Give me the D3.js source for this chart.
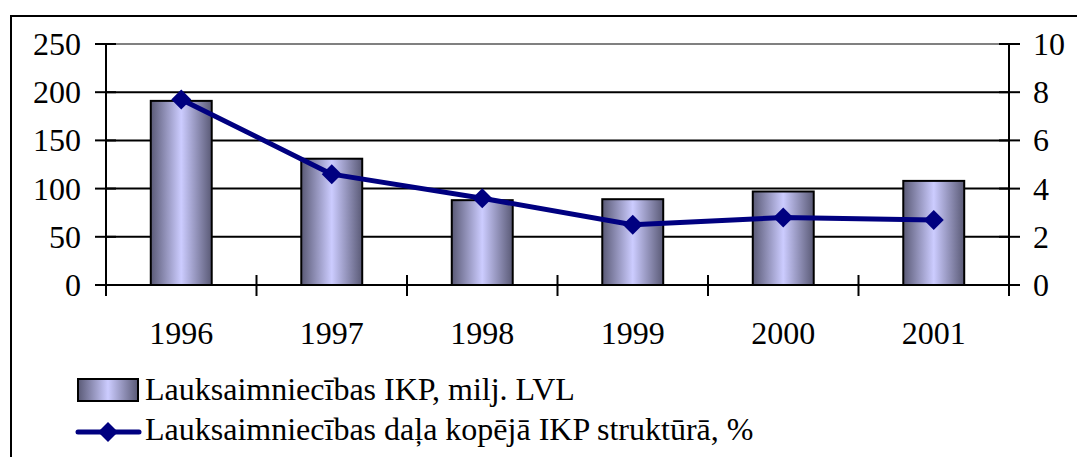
<!DOCTYPE html>
<html>
<head>
<meta charset="utf-8">
<script src="https://cdn.jsdelivr.net/npm/d3@7"></script>
</head>
<body style="margin:0">
<script>
const years = ["1996", "1997", "1998", "1999", "2000", "2001"];
const gdpValues = [191, 131, 88, 89, 97, 108];
const shareValues = [7.7, 4.6, 3.6, 2.5, 2.8, 2.7];
const leftTicks = [0, 50, 100, 150, 200, 250];
const rightTicks = [0, 2, 4, 6, 8, 10];
const barLabel = "Lauksaimniecības IKP, milj. LVL";
const lineLabel = "Lauksaimniecības daļa kopējā IKP struktūrā, %";

const width = 1077, height = 457;
const plot = { left: 106, right: 1009, top: 44, bottom: 285 };
const fontSize = 32;

const svg = d3.select("body").append("svg")
  .attr("width", width)
  .attr("height", height)
  .style("font-family", '"Liberation Serif"');

// bar gradient: dark at edges, light in the middle
const grad = svg.append("defs").append("linearGradient")
  .attr("id", "barGrad")
  .attr("x1", "0%").attr("x2", "100%").attr("y1", "0%").attr("y2", "0%");
grad.append("stop").attr("offset", "0%").attr("stop-color", "#5a5a76");
grad.append("stop").attr("offset", "50%").attr("stop-color", "#ccccff");
grad.append("stop").attr("offset", "100%").attr("stop-color", "#5a5a76");

// outer chart border (left and top only visible)
svg.append("path")
  .attr("d", "M11,457 L11,16 L1077,16")
  .attr("fill", "none")
  .attr("stroke", "#000")
  .attr("stroke-width", 2);

const x = d3.scaleBand()
  .domain(years)
  .range([plot.left, plot.right])
  .paddingInner(0)
  .paddingOuter(0);

const yLeft = d3.scaleLinear().domain([0, 250]).range([plot.bottom, plot.top]);
const yRight = d3.scaleLinear().domain([0, 10]).range([plot.bottom, plot.top]);

// gridlines
svg.append("g")
  .selectAll("line")
  .data(leftTicks.filter(d => d > 0))
  .join("line")
  .attr("x1", plot.left).attr("x2", plot.right)
  .attr("y1", d => yLeft(d)).attr("y2", d => yLeft(d))
  .attr("stroke", d => d === 250 ? "#808080" : "#000")
  .attr("stroke-width", 2);

// bars
const barW = x.bandwidth() * 0.405;
svg.append("g")
  .selectAll("rect")
  .data(years)
  .join("rect")
  .attr("x", (d) => x(d) + x.bandwidth() / 2 - barW / 2)
  .attr("width", barW)
  .attr("y", (d, i) => yLeft(gdpValues[i]))
  .attr("height", (d, i) => plot.bottom - yLeft(gdpValues[i]))
  .attr("fill", "url(#barGrad)")
  .attr("stroke", "#000")
  .attr("stroke-width", 2);

// all labels are plain svg text so the font is set the same way everywhere
function label(parent, txt, tx, ty, anchor) {
  return parent.append("text")
    .attr("x", tx).attr("y", ty)
    .attr("text-anchor", anchor)
    .attr("font-size", fontSize)
    .style("font-family", '"Liberation Serif"')
    .attr("fill", "#000")
    .text(txt);
}

// left axis
const leftAxis = svg.append("g");
leftAxis.selectAll("line.tick")
  .data(leftTicks)
  .join("line")
  .attr("class", "tick")
  .attr("x1", plot.left - 11).attr("x2", plot.left + 10)
  .attr("y1", d => yLeft(d)).attr("y2", d => yLeft(d))
  .attr("stroke", "#000").attr("stroke-width", 2);
leftTicks.forEach(d => label(leftAxis, d, plot.left - 25, yLeft(d) + 11, "end"));
leftAxis.append("line")
  .attr("x1", plot.left).attr("x2", plot.left)
  .attr("y1", plot.top).attr("y2", plot.bottom + 11)
  .attr("stroke", "#000").attr("stroke-width", 2);

// right axis
const rightAxis = svg.append("g");
rightAxis.selectAll("line.tick")
  .data(rightTicks)
  .join("line")
  .attr("class", "tick")
  .attr("x1", plot.right - 10).attr("x2", plot.right + 11)
  .attr("y1", d => yRight(d)).attr("y2", d => yRight(d))
  .attr("stroke", "#000").attr("stroke-width", 2);
rightTicks.forEach(d => label(rightAxis, d, plot.right + 24, yRight(d) + 11, "start"));
rightAxis.append("line")
  .attr("x1", plot.right).attr("x2", plot.right)
  .attr("y1", plot.top).attr("y2", plot.bottom + 11)
  .attr("stroke", "#000").attr("stroke-width", 2);

// bottom axis
const bottomAxis = svg.append("g");
bottomAxis.append("line")
  .attr("x1", plot.left).attr("x2", plot.right)
  .attr("y1", plot.bottom).attr("y2", plot.bottom)
  .attr("stroke", "#000").attr("stroke-width", 2);
bottomAxis.selectAll("line.sep")
  .data(years.slice(1))
  .join("line")
  .attr("class", "sep")
  .attr("x1", d => x(d)).attr("x2", d => x(d))
  .attr("y1", plot.bottom - 10).attr("y2", plot.bottom + 11)
  .attr("stroke", "#000").attr("stroke-width", 2);
years.forEach(d => label(bottomAxis, d, x(d) + x.bandwidth() / 2, plot.bottom + 59, "middle"));

// line series
const line = d3.line()
  .x((d, i) => x(years[i]) + x.bandwidth() / 2)
  .y(d => yRight(d));

svg.append("path")
  .datum(shareValues)
  .attr("d", line)
  .attr("fill", "none")
  .attr("stroke", "#000080")
  .attr("stroke-width", 5)
  .attr("stroke-linejoin", "round");

const diamond = d3.symbol().type(d3.symbolSquare).size(200);
svg.append("g")
  .selectAll("path")
  .data(shareValues)
  .join("path")
  .attr("d", diamond)
  .attr("transform", (d, i) => `translate(${x(years[i]) + x.bandwidth() / 2},${yRight(d)}) rotate(45)`)
  .attr("fill", "#000080");

// legend
const legend = svg.append("g");
legend.append("rect")
  .attr("x", 78).attr("y", 379)
  .attr("width", 60).attr("height", 22)
  .attr("fill", "url(#barGrad)")
  .attr("stroke", "#000").attr("stroke-width", 2);
label(legend, barLabel, 145, 400, "start");

legend.append("line")
  .attr("x1", 78).attr("x2", 139)
  .attr("y1", 432).attr("y2", 432)
  .attr("stroke", "#000080").attr("stroke-width", 5)
  .attr("stroke-linecap", "round");
legend.append("path")
  .attr("d", diamond)
  .attr("transform", "translate(108,432) rotate(45)")
  .attr("fill", "#000080");
label(legend, lineLabel, 145, 440, "start");
</script>
</body>
</html>
